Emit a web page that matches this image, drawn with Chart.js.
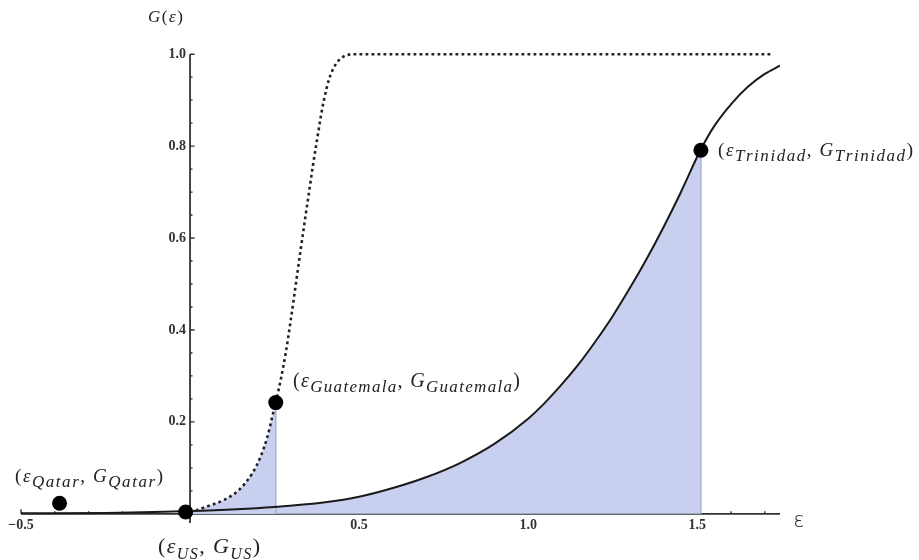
<!DOCTYPE html>
<html>
<head>
  <title>G(ε) curves</title>
  <script src="https://cdn.jsdelivr.net/npm/chart.js"></script>
  <style>
    body { margin: 0; background: #fff; }
    #wrap { width: 919px; height: 560px; }
  </style>
</head>
<body>
  <div id="wrap"><canvas id="gChart" width="919" height="560"></canvas></div>

  <script>
    // solid curve
    const solidX = [-0.5, -0.25, 0, 0.25, 0.4, 0.5, 0.6, 0.7, 0.8, 0.9, 1.0, 1.05, 1.1, 1.15, 1.2, 1.25, 1.3, 1.35, 1.4, 1.45, 1.511, 1.55, 1.6, 1.65, 1.7, 1.745];
    const solidY = [0.001, 0.002, 0.006, 0.015, 0.025, 0.037, 0.056, 0.080, 0.111, 0.152, 0.207, 0.242, 0.282, 0.326, 0.376, 0.430, 0.490, 0.554, 0.623, 0.697, 0.793, 0.843, 0.891, 0.929, 0.957, 0.975];

    // dashed curve
    const dashedX = [0, 0.02, 0.05, 0.1, 0.145, 0.184, 0.209, 0.229, 0.2435, 0.2535, 0.268, 0.283, 0.298, 0.313, 0.327, 0.34, 0.352, 0.364, 0.377, 0.387, 0.396, 0.411, 0.431, 0.46, 0.49, 1.72];
    const dashedY = [0.004, 0.008, 0.016, 0.030, 0.052, 0.088, 0.125, 0.168, 0.212, 0.242, 0.291, 0.350, 0.422, 0.500, 0.574, 0.640, 0.700, 0.760, 0.820, 0.865, 0.900, 0.945, 0.978, 0.997, 1.0, 1.0];

    // marked countries
    const countryNames = ['Qatar', 'US', 'Guatemala', 'Trinidad'];
    const countryX = [-0.386, -0.013, 0.2535, 1.511];
    const countryY = [0.023, 0.004, 0.242, 0.791];

    // ticks
    const xMajorTicks = [-0.5, 0.5, 1.0, 1.5];
    const xTickLabels = ['\u22120.5', '0.5', '1.0', '1.5'];
    const xMinorTicks = [-0.4, -0.3, -0.2, -0.1, 0.1, 0.2, 0.3, 0.4, 0.6, 0.7, 0.8, 0.9, 1.1, 1.2, 1.3, 1.4, 1.6, 1.7];
    const yMajorTicks = [0.2, 0.4, 0.6, 0.8, 1.0];
    const yTickLabels = ['0.2', '0.4', '0.6', '0.8', '1.0'];
    const yMinorTicks = [0.05, 0.1, 0.15, 0.25, 0.3, 0.35, 0.45, 0.5, 0.55, 0.65, 0.7, 0.75, 0.85, 0.9, 0.95];

    const fillColor = '#c9cfee';
    const edgeColor = '#a7afd3';
    const inkColor = '#222';

    const pts = (xs, ys) => xs.map((x, i) => ({x: x, y: ys[i]}));

    // shaded pieces: under dashed up to Guatemala, under solid up to Trinidad
    const guatFill = pts(dashedX, dashedY).filter(p => p.x <= countryX[2]);
    const trinFill = pts(solidX, solidY).filter(p => p.x >= 0 && p.x <= countryX[3]);

    function drawMath(ctx, parts, left, baseline, width, main, sub) {
      const fontFor = p => (p[2] ? 'italic ' : '') + (p[1] ? sub : main) + 'px "Liberation Serif"';
      const chars = [];
      parts.forEach(p => { for (const ch of p[0]) chars.push({ch: ch, p: p}); });
      let natural = 0;
      chars.forEach(c => { ctx.font = fontFor(c.p); c.w = ctx.measureText(c.ch).width; natural += c.w; });
      const extra = chars.length > 1 ? (width - natural) / (chars.length - 1) : 0;
      let x = left;
      chars.forEach(c => {
        ctx.font = fontFor(c.p);
        ctx.fillText(c.ch, x, baseline + (c.p[1] ? main * 0.27 : 0));
        x += c.w + extra;
      });
    }

    const mathLabel = n => [['(', 0, 0], ['\u03b5', 0, 1], [n, 1, 1], [',', 0, 0], [' ', 0, 0], ['G', 0, 1], [n, 1, 1], [')', 0, 0]];

    // left, baseline, width, main size, sub size for each country label
    const labelBoxes = [
      [15, 482, 148, 19, 17],
      [158, 553, 102, 22, 16],
      [293, 387, 227, 20, 17],
      [718, 156, 195, 19, 17]
    ];

    const axesPlugin = {
      id: 'axesThroughOrigin',
      beforeDatasetsDraw(chart) {
        const ctx = chart.ctx;
        const xs = chart.scales.x, ys = chart.scales.y;
        const x0 = xs.getPixelForValue(0), y0 = ys.getPixelForValue(0);
        ctx.save();
        ctx.strokeStyle = '#333';
        ctx.lineWidth = 1.8;
        ctx.beginPath();
        ctx.moveTo(xs.getPixelForValue(-0.5), y0);
        ctx.lineTo(xs.right, y0);
        ctx.moveTo(x0, ys.bottom);
        ctx.lineTo(x0, ys.getPixelForValue(1.0));
        ctx.stroke();

        ctx.lineWidth = 1.4;
        ctx.beginPath();
        xMajorTicks.forEach(v => { const p = xs.getPixelForValue(v); ctx.moveTo(p, y0); ctx.lineTo(p, y0 - 4.5); });
        xMinorTicks.forEach(v => { const p = xs.getPixelForValue(v); ctx.moveTo(p, y0); ctx.lineTo(p, y0 - 2.5); });
        yMajorTicks.forEach(v => { const p = ys.getPixelForValue(v); ctx.moveTo(x0, p); ctx.lineTo(x0 + 4.5, p); });
        yMinorTicks.forEach(v => { const p = ys.getPixelForValue(v); ctx.moveTo(x0, p); ctx.lineTo(x0 + 2.5, p); });
        ctx.stroke();
        ctx.restore();
      },
      afterDraw(chart) {
        const ctx = chart.ctx;
        const xs = chart.scales.x, ys = chart.scales.y;
        const x0 = xs.getPixelForValue(0), y0 = ys.getPixelForValue(0);
        ctx.save();
        ctx.fillStyle = '#333';
        ctx.font = 'bold 14px "Liberation Serif"';
        ctx.textAlign = 'center';
        ctx.textBaseline = 'top';
        xMajorTicks.forEach((v, i) => ctx.fillText(xTickLabels[i], xs.getPixelForValue(v), y0 + 5));
        ctx.textAlign = 'right';
        ctx.textBaseline = 'middle';
        yMajorTicks.forEach((v, i) => ctx.fillText(yTickLabels[i], x0 - 4, ys.getPixelForValue(v)));

        // axis titles
        ctx.fillStyle = inkColor;
        ctx.textAlign = 'left';
        ctx.textBaseline = 'alphabetic';
        drawMath(ctx, [['G', 0, 1], ['(', 0, 0], ['\u03b5', 0, 1], [')', 0, 0]], 148, 22, 35, 17, 12);
        ctx.font = '200 21px "DejaVu Sans"';
        ctx.textAlign = 'center';
        ctx.textBaseline = 'middle';
        ctx.fillText('\u03b5', 799, 522);

        ctx.textAlign = 'left';
        ctx.textBaseline = 'alphabetic';
        countryNames.forEach((n, i) => {
          const b = labelBoxes[i];
          drawMath(ctx, mathLabel(n), b[0], b[1], b[2], b[3], b[4]);
        });
        ctx.restore();
      }
    };

    const ctx = document.getElementById('gChart').getContext('2d');
    const chart = new Chart(ctx, {
      type: 'line',
      data: {
        datasets: [
          {
            label: 'countries',
            data: pts(countryX, countryY),
            showLine: false,
            pointRadius: 7.5,
            pointBackgroundColor: '#000',
            pointBorderWidth: 0,
            order: 0
          },
          {
            label: 'dashed',
            data: pts(dashedX, dashedY),
            borderColor: inkColor,
            borderWidth: 2.6,
            borderDash: [2.8, 3.2],
            pointRadius: 0,
            fill: false,
            cubicInterpolationMode: 'monotone',
            order: 1
          },
          {
            label: 'solid',
            data: pts(solidX, solidY),
            borderColor: '#1a1a1a',
            borderWidth: 2,
            pointRadius: 0,
            fill: false,
            cubicInterpolationMode: 'monotone',
            order: 2
          },
          {
            label: 'edge Guatemala',
            data: [{x: countryX[2], y: 0}, {x: countryX[2], y: countryY[2]}],
            borderColor: edgeColor,
            borderWidth: 1.5,
            pointRadius: 0,
            order: 3
          },
          {
            label: 'edge Trinidad',
            data: [{x: countryX[3], y: 0}, {x: countryX[3], y: countryY[3]}],
            borderColor: edgeColor,
            borderWidth: 1.5,
            pointRadius: 0,
            order: 3
          },
          {
            label: 'fill Guatemala',
            data: guatFill,
            borderWidth: 0,
            borderColor: 'rgba(0,0,0,0)',
            backgroundColor: fillColor,
            pointRadius: 0,
            fill: 'origin',
            cubicInterpolationMode: 'monotone',
            order: 4
          },
          {
            label: 'fill Trinidad',
            data: trinFill,
            borderWidth: 0,
            borderColor: 'rgba(0,0,0,0)',
            backgroundColor: fillColor,
            pointRadius: 0,
            fill: 'origin',
            cubicInterpolationMode: 'monotone',
            order: 4
          }
        ]
      },
      options: {
        responsive: false,
        animation: false,
        devicePixelRatio: 1,
        layout: { padding: { left: 21, right: 139, top: 45, bottom: 37 } },
        scales: {
          x: { type: 'linear', min: -0.5, max: 1.745, display: false },
          y: { type: 'linear', min: -0.02, max: 1.02, display: false }
        },
        plugins: {
          legend: { display: false },
          tooltip: { enabled: false }
        }
      },
      plugins: [axesPlugin]
    });
  </script>
</body>
</html>
